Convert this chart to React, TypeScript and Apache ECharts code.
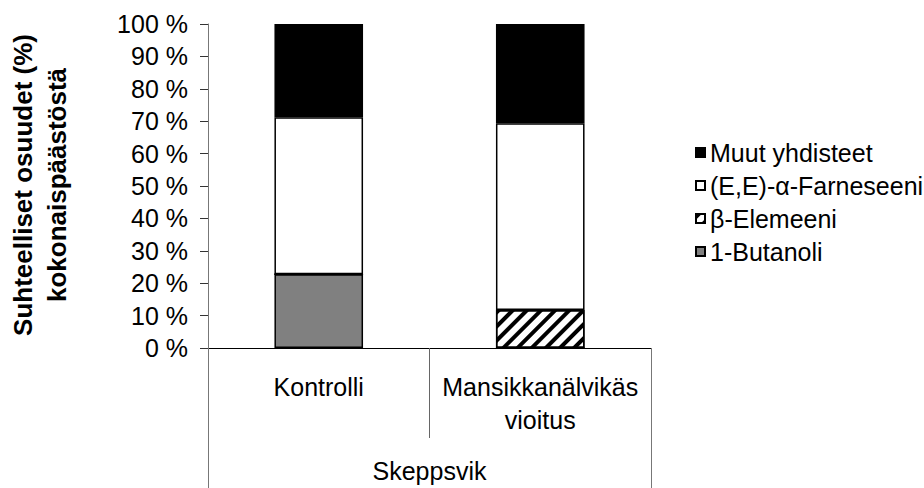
import React, { useEffect, useRef } from "react";
import * as echarts from "echarts";

const categories = ["Kontrolli", "Mansikkanälvikäs\nvioitus"];
const groupLabel = ["Skeppsvik"];
const butanoli = [22.8, 0];
const elemeeni = [0, 11.7];
const farneseeni = [48.4, 57.7];
const muut = [28.8, 30.6];
const legendOrder = ["Muut yhdisteet", "(E,E)-α-Farneseeni", "β-Elemeeni", "1-Butanoli"];

const FONT = "'Liberation Sans', Arial, sans-serif";

export default function App() {
  const ref = useRef<HTMLDivElement>(null);
  useEffect(() => {
    if (!ref.current) return;
    const chart = echarts.init(ref.current, null, { renderer: "svg" });
    const border = { borderColor: "#000", borderWidth: 1.5 };
    chart.setOption({
      animation: false,
      backgroundColor: "#fff",
      textStyle: { fontFamily: FONT },
      grid: { left: 208, right: 273, top: 24, bottom: 140, containLabel: false },
      legend: {
        orient: "vertical",
        left: 690,
        top: 135,
        itemWidth: 9,
        itemHeight: 9,
        itemGap: 8,
        icon: "rect",
        data: legendOrder,
        textStyle: { fontSize: 25, color: "#000", fontFamily: FONT },
      },
      graphic: [
        {
          type: "text",
          x: 40,
          y: 185,
          rotation: Math.PI / 2,
          style: {
            text: "Suhteelliset osuudet (%)\nkokonaispäästöstä",
            align: "center",
            verticalAlign: "middle",
            font: `bold 26px ${FONT}`,
            lineHeight: 34,
            fill: "#000",
          },
        },
      ],
      xAxis: [
        {
          type: "category",
          data: categories,
          position: "bottom",
          axisLine: { show: true, lineStyle: { color: "#000", width: 1 } },
          axisTick: { show: true, interval: 0, length: 90, lineStyle: { color: "#666", width: 1 } },
          axisLabel: { interval: 0, fontSize: 25, color: "#000", margin: 22, lineHeight: 33, fontFamily: FONT },
        },
        {
          type: "category",
          data: groupLabel,
          position: "bottom",
          axisLine: { show: false },
          axisTick: { show: true, interval: 0, length: 140, lineStyle: { color: "#777", width: 1 } },
          axisLabel: { interval: 0, fontSize: 25, color: "#000", margin: 110, fontFamily: FONT },
        },
      ],
      yAxis: {
        type: "value",
        min: 0,
        max: 100,
        interval: 10,
        axisLine: { show: true, lineStyle: { color: "#777", width: 1 } },
        axisTick: { show: true, length: 8, lineStyle: { color: "#333", width: 1 } },
        axisLabel: { formatter: "{value} %", fontSize: 25, color: "#000", margin: 20, fontFamily: FONT },
        splitLine: { show: false },
      },
      series: [
        {
          name: "1-Butanoli",
          type: "bar",
          stack: "s",
          barWidth: "40%",
          data: butanoli,
          itemStyle: { color: "#808080", ...border },
        },
        {
          name: "β-Elemeeni",
          type: "bar",
          stack: "s",
          barWidth: "40%",
          data: elemeeni,
          itemStyle: {
            color: "#fff",
            ...border,
            decal: {
              symbol: "rect",
              symbolSize: 1,
              color: "#000",
              dashArrayX: [1, 0],
              dashArrayY: [3.5, 5.5],
              rotation: -Math.PI / 4,
            },
          },
        },
        {
          name: "(E,E)-α-Farneseeni",
          type: "bar",
          stack: "s",
          barWidth: "40%",
          data: farneseeni,
          itemStyle: { color: "#fff", ...border },
        },
        {
          name: "Muut yhdisteet",
          type: "bar",
          stack: "s",
          barWidth: "40%",
          data: muut,
          itemStyle: { color: "#000", ...border },
        },
      ],
    });
    return () => chart.dispose();
  }, []);
  return (
    <div
      ref={ref}
      style={{ position: "fixed", left: 0, top: 0, width: 924, height: 488 }}
    />
  );
}
